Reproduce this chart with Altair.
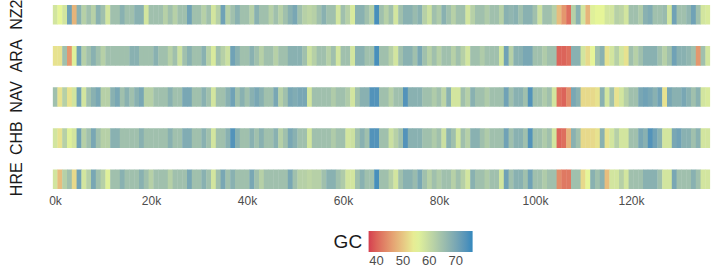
import altair as alt
import pandas as pd

strains = ["NZ2", "ARA", "NAV", "CHB", "HRE"]
window_kb = 1  # window size in kb; tiles centred on window index

gc_NZ2 = [58, 55, 58, 71, 48, 68, 62, 65, 62, 68, 65, 58, 65, 65, 68, 65, 65, 68, 68, 58,
          65, 65, 65, 62, 65, 62, 65, 65, 71, 65, 65, 62, 65, 58, 62, 71, 62, 65, 68, 65,
          65, 62, 68, 65, 65, 62, 65, 62, 65, 68, 70, 65, 62, 61, 62, 65, 68, 65, 65, 58,
          65, 62, 57, 68, 68, 65, 62, 75, 65, 62, 65, 58, 65, 68, 68, 66, 68, 62, 59, 65,
          63, 68, 65, 62, 65, 65, 58, 62, 65, 65, 63, 65, 65, 62, 68, 67, 68, 65, 68, 68,
          65, 59, 65, 65, 62, 49, 45, 41, 62, 68, 58, 48, 56, 55, 55, 58, 58, 62, 61, 58,
          65, 65, 63, 68, 69, 65, 65, 66, 58, 71, 65, 65, 67, 71, 65, 58, 57]
gc_ARA = [53, 53, 65, 45, 56, 71, 62, 65, 68, 65, 62, 65, 65, 65, 65, 65, 68, 68, 65, 65,
          65, 68, 65, 65, 62, 65, 59, 65, 68, 65, 65, 68, 62, 57, 65, 62, 59, 71, 68, 65,
          65, 68, 65, 62, 65, 65, 62, 65, 65, 68, 68, 68, 65, 59, 62, 65, 65, 62, 65, 58,
          65, 65, 58, 68, 68, 65, 65, 75, 65, 65, 62, 58, 65, 68, 68, 65, 70, 65, 62, 65,
          62, 65, 65, 62, 65, 62, 58, 65, 65, 63, 65, 65, 65, 58, 71, 62, 68, 68, 70, 70,
          65, 65, 63, 65, 65, 40, 40, 41, 68, 68, 58, 52, 55, 65, 68, 53, 58, 62, 58, 53,
          65, 62, 65, 68, 68, 68, 65, 62, 65, 71, 68, 68, 67, 65, 45, 65, 58]
gc_NAV = [65, 53, 62, 53, 58, 71, 58, 65, 68, 70, 62, 62, 68, 70, 65, 68, 65, 68, 70, 62,
          62, 65, 65, 65, 68, 65, 65, 70, 70, 65, 65, 68, 65, 58, 65, 65, 68, 71, 65, 68,
          65, 68, 70, 68, 65, 65, 70, 62, 65, 70, 69, 70, 70, 58, 65, 65, 65, 65, 63, 65,
          65, 63, 58, 65, 68, 68, 74, 74, 65, 65, 62, 65, 65, 74, 68, 68, 68, 65, 65, 63,
          65, 61, 68, 58, 58, 65, 62, 68, 65, 65, 63, 65, 65, 65, 71, 65, 68, 68, 65, 74,
          65, 65, 63, 65, 58, 41, 40, 44, 70, 68, 52, 52, 52, 53, 68, 58, 65, 53, 58, 62,
          65, 65, 70, 71, 70, 68, 71, 53, 70, 68, 68, 70, 68, 65, 68, 58, 57]
gc_CHB = [58, 53, 62, 56, 58, 71, 62, 65, 70, 65, 62, 62, 68, 68, 65, 65, 65, 65, 68, 65,
          65, 65, 65, 65, 68, 65, 65, 69, 69, 65, 65, 68, 65, 58, 65, 65, 68, 74, 68, 65,
          65, 68, 65, 68, 65, 65, 68, 62, 65, 70, 68, 65, 65, 58, 65, 65, 65, 65, 63, 65,
          65, 58, 59, 65, 68, 65, 74, 74, 65, 65, 59, 62, 65, 74, 68, 68, 68, 65, 65, 63,
          65, 59, 68, 65, 58, 65, 62, 68, 68, 65, 63, 65, 65, 65, 71, 65, 68, 68, 65, 74,
          65, 65, 63, 65, 58, 40, 41, 48, 68, 65, 52, 52, 52, 53, 68, 53, 58, 62, 58, 58,
          65, 65, 70, 68, 74, 71, 68, 58, 58, 70, 71, 68, 68, 65, 68, 58, 58]
gc_HRE = [58, 49, 62, 65, 52, 71, 58, 62, 70, 65, 62, 56, 65, 65, 68, 65, 65, 65, 68, 65,
          62, 65, 65, 65, 62, 65, 65, 65, 70, 65, 65, 68, 65, 58, 65, 70, 65, 68, 65, 65,
          65, 70, 65, 62, 65, 65, 65, 65, 65, 70, 65, 62, 62, 61, 62, 62, 65, 68, 68, 65,
          63, 58, 58, 65, 68, 65, 65, 75, 65, 65, 62, 58, 65, 68, 68, 66, 70, 65, 62, 65,
          63, 65, 65, 62, 65, 62, 58, 68, 65, 65, 63, 65, 65, 58, 71, 65, 68, 68, 65, 71,
          65, 65, 63, 65, 65, 44, 42, 42, 65, 65, 52, 55, 68, 65, 68, 49, 58, 58, 62, 58,
          65, 65, 65, 68, 68, 68, 65, 58, 58, 70, 65, 65, 65, 68, 65, 58, 58]

x_ticks = [0, 20000, 40000, 60000, 80000, 100000, 120000]
legend_values = [40, 50, 60, 70]
gc_domain = [37, 55, 76.4]
gc_colors = ["#D53E4F", "#E6F598", "#3288BD"]

series = {"NZ2": gc_NZ2, "ARA": gc_ARA, "NAV": gc_NAV, "CHB": gc_CHB, "HRE": gc_HRE}
rows = []
for name in strains:
    for k, v in enumerate(series[name]):
        centre = k * window_kb * 1000
        # tiles overlap the next one slightly to hide anti-aliasing seams
        rows.append({"strain": name, "start": centre - 500, "end": centre + 580, "GC": v})
df = pd.DataFrame(rows)
n = len(gc_NZ2)

gc_scale = alt.Scale(domain=gc_domain, range=gc_colors, interpolate="lab", clamp=True)

chart = alt.Chart(df).mark_rect(clip=True).encode(
    x=alt.X("start:Q",
            scale=alt.Scale(domain=[-500, (n - 1) * 1000 + 500], nice=False, zero=False),
            axis=alt.Axis(title=None, values=x_ticks, labelExpr="(datum.value/1000) + 'k'",
                          domain=False, ticks=False, grid=False, labelFontSize=12,
                          labelColor="#4d4d4d", labelPadding=6, labelFont="Liberation Sans")),
    x2="end:Q",
    y=alt.Y("strain:N", sort=strains,
            scale=alt.Scale(paddingInner=0.525, paddingOuter=0),
            axis=alt.Axis(title=None, domain=False, ticks=False, labelAngle=270,
                          labelAlign="center", labelBaseline="alphabetic",
                          labelFontSize=16, labelColor="#1a1a1a", labelPadding=31,
                          labelFont="Liberation Sans")),
    color=alt.Color("GC:Q", scale=gc_scale,
                    legend=alt.Legend(orient="none", legendX=281, legendY=226,
                                      direction="horizontal", gradientLength=104,
                                      gradientThickness=21, titleOrient="left",
                                      title="GC", titleFontSize=19, titleFont="Liberation Sans",
                                      titleFontWeight="normal", titleColor="#1a1a1a",
                                      titlePadding=6, values=legend_values,
                                      labelFontSize=13, labelColor="#4d4d4d", labelOffset=3,
                                      labelFont="Liberation Sans", gradientStrokeWidth=0)),
).properties(
    width=657.6, height=184,
    autosize=alt.AutoSizeParams(type="none"),
    padding={"left": 52.6, "top": 5, "right": 3.8, "bottom": 81},
).configure_view(stroke=None)

chart.save("out.html", embed_options={"renderer": "svg", "actions": False})
